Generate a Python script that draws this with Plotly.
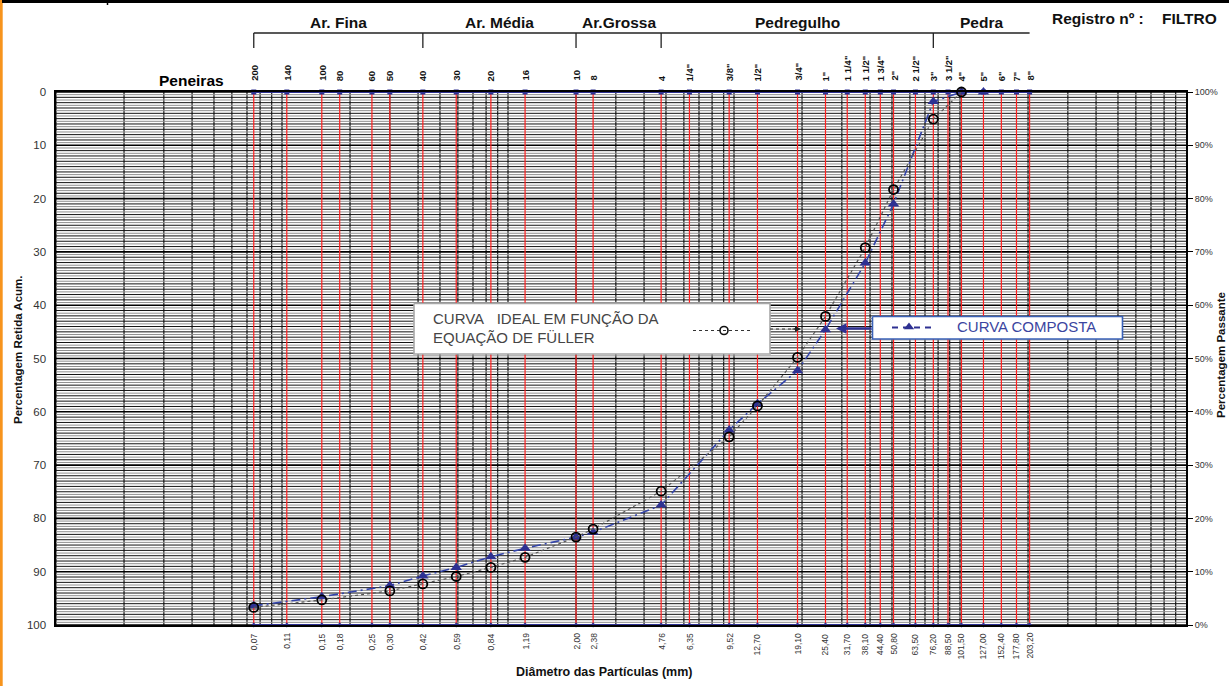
import math
import plotly.graph_objects as go

# ---------------- data ----------------
sieve_labels = ["200", "140", "100", "80", "60", "50", "40", "30", "20", "16", "10", "8", "4",
                '1/4"', '3/8"', '1/2"', '3/4"', '1"', '1 1/4"', '1 1/2"', '1 3/4"', '2"',
                '2 1/2"', '3"', '3 1/2"', '4"', '5"', '6"', '7"', '8"']
sieve_mm = [0.075, 0.105, 0.15, 0.18, 0.25, 0.30, 0.42, 0.59, 0.84, 1.19, 2.00, 2.38, 4.76,
            6.35, 9.52, 12.70, 19.10, 25.40, 31.70, 38.10, 44.40, 50.80, 63.50, 76.20, 88.50,
            101.50, 127.00, 152.40, 177.80, 203.20]
mm_labels = ["0,07", "0,11", "0,15", "0,18", "0,25", "0,30", "0,42", "0,59", "0,84", "1,19",
             "2,00", "2,38", "4,76", "6,35", "9,52", "12,70", "19,10", "25,40", "31,70", "38,10",
             "44,40", "50,80", "63,50", "76,20", "88,50", "101,50", "127,00", "152,40", "177,80",
             "203,20"]

fuller_mm = [0.075, 0.15, 0.30, 0.42, 0.59, 0.84, 1.19, 2.00, 2.38, 4.76, 9.52, 12.70, 19.10,
             25.40, 38.10, 50.80, 76.20, 101.50]
fuller_ret = [96.7, 95.3, 93.6, 92.3, 90.9, 89.2, 87.3, 83.5, 82.0, 74.9, 64.7, 58.9, 49.8,
              42.1, 29.2, 18.3, 5.1, 0.0]

comp_mm = [0.075, 0.15, 0.30, 0.42, 0.59, 0.84, 1.19, 2.00, 2.38, 4.76, 9.52, 12.70, 19.10,
           25.40, 38.10, 50.80, 76.20, 101.50, 127.00]
comp_ret = [96.4, 94.7, 92.6, 90.8, 89.2, 87.2, 85.6, 83.5, 82.6, 77.5, 63.4, 58.5, 52.3,
            44.6, 32.1, 21.0, 1.8, 0.0, 0.0]

group_names = ["Ar. Fina", "Ar. Média", "Ar.Grossa", "Pedregulho", "Pedra"]
group_bounds = [0.075, 0.42, 2.00, 4.76, 76.20, 203.20]

left_ticks = list(range(0, 101, 10))
right_ticks = list(range(0, 101, 10))

# ---------------- geometry helpers ----------------
W_FIG, H_FIG = 1229, 686
L, R, T, B = 56, 1186, 92, 625
XMIN, XMAX = -2, 3


def px(x):
    return (x - L) / (R - L)


def py(y):
    return (B - y) / (B - T)


def xfrac(mm):
    return (math.log10(mm) - XMIN) / (XMAX - XMIN)


FONT = "Liberation Sans, Arial, sans-serif"
BLUE = "#2e3192"

fig = go.Figure()

# ---------------- grid ----------------
vx, vy = [], []
for e in range(XMIN, XMAX):
    for k in range(1, 10):
        v = k * 10 ** e
        vx += [v, v, None]
        vy += [0, 100, None]
fig.add_trace(go.Scatter(x=vx, y=vy, mode="lines", line=dict(color="#2a2a2a", width=1.3),
                         hoverinfo="skip", showlegend=False))

hx_gray, hy_gray, hx_blk, hy_blk, hx_maj, hy_maj = [], [], [], [], [], []
for i in range(0, 201):
    v = i / 2
    if i % 20 == 0:
        hx_maj += [0.01, 1000, None]
        hy_maj += [v, v, None]
    elif i % 2 == 0:
        hx_blk += [0.01, 1000, None]
        hy_blk += [v, v, None]
    else:
        hx_gray += [0.01, 1000, None]
        hy_gray += [v, v, None]
fig.add_trace(go.Scatter(x=hx_gray, y=hy_gray, mode="lines", line=dict(color="#8f8f8f", width=1),
                         hoverinfo="skip", showlegend=False))
fig.add_trace(go.Scatter(x=hx_blk, y=hy_blk, mode="lines", line=dict(color="#111111", width=1),
                         hoverinfo="skip", showlegend=False))
fig.add_trace(go.Scatter(x=hx_maj, y=hy_maj, mode="lines", line=dict(color="#000000", width=1.6),
                         hoverinfo="skip", showlegend=False))

# red sieve lines
rx, ry = [], []
for v in sieve_mm:
    rx += [v, v, None]
    ry += [0, 100, None]
fig.add_trace(go.Scatter(x=rx, y=ry, mode="lines", line=dict(color="#ff2020", width=1.2),
                         hoverinfo="skip", showlegend=False))

# ---------------- legend boxes (overlay axes in plot-fraction units) ----------------
def box(x0, y0, x1, y1, border, bw):
    fig.add_trace(go.Scatter(
        x=[px(x0), px(x1), px(x1), px(x0), px(x0)],
        y=[py(y0), py(y0), py(y1), py(y1), py(y0)],
        mode="lines", fill="toself", fillcolor="white",
        line=dict(color=border, width=bw), xaxis="x3", yaxis="y3",
        hoverinfo="skip", showlegend=False))


box(414, 303.5, 770, 354, "#a8a8a8", 1.6)
box(872.5, 316.5, 1122.5, 339, "#3a62b8", 1.6)

# legend samples
fig.add_trace(go.Scatter(x=[px(693), px(752)], y=[py(330.5), py(330.5)], mode="lines",
                         line=dict(color="#333333", width=1.2, dash="dot"),
                         xaxis="x3", yaxis="y3", hoverinfo="skip", showlegend=False))
fig.add_trace(go.Scatter(x=[px(724)], y=[py(330.5)], mode="markers",
                         marker=dict(symbol="circle-open", size=8, color="#111111",
                                     line=dict(width=1.6)),
                         xaxis="x3", yaxis="y3", hoverinfo="skip", showlegend=False))
fig.add_trace(go.Scatter(x=[px(770), px(795)], y=[py(329), py(329)], mode="lines",
                         line=dict(color="#333333", width=1.2, dash="dot"),
                         xaxis="x3", yaxis="y3", hoverinfo="skip", showlegend=False))
fig.add_trace(go.Scatter(x=[px(892), px(935)], y=[py(327.5), py(327.5)], mode="lines",
                         line=dict(color=BLUE, width=1.8, dash="6px,5px"),
                         xaxis="x3", yaxis="y3", hoverinfo="skip", showlegend=False))
fig.add_trace(go.Scatter(x=[px(909)], y=[py(327)], mode="markers",
                         marker=dict(symbol="triangle-up", size=9, color=BLUE),
                         xaxis="x3", yaxis="y3", hoverinfo="skip", showlegend=False))

# ---------------- top / bottom sieve bars ----------------
fig.add_trace(go.Scatter(x=sieve_mm, y=[0] * len(sieve_mm), mode="lines+markers",
                         line=dict(color=BLUE, width=2.2),
                         marker=dict(symbol="square", size=5, color=BLUE),
                         cliponaxis=False, hoverinfo="skip", showlegend=False))
fig.add_trace(go.Scatter(x=sieve_mm, y=[100] * len(sieve_mm), mode="lines+markers",
                         line=dict(color=BLUE, width=2.2),
                         marker=dict(symbol="diamond", size=4, color=BLUE),
                         cliponaxis=False, hoverinfo="skip", showlegend=False))

# ---------------- data curves ----------------
fig.add_trace(go.Scatter(x=comp_mm, y=comp_ret, mode="lines+markers", name="CURVA COMPOSTA",
                         line=dict(color="#3344aa", width=1.6, dash="9px,4px,2px,4px"),
                         marker=dict(symbol="triangle-up", size=10, color=BLUE),
                         cliponaxis=False, showlegend=False))
fig.add_trace(go.Scatter(x=fuller_mm, y=fuller_ret, mode="lines+markers",
                         name="CURVA IDEAL EM FUNÇÃO DA EQUAÇÃO DE FÜLLER",
                         line=dict(color="#555555", width=1.2, dash="dot"),
                         marker=dict(symbol="circle-open", size=9, color="#000000",
                                     line=dict(width=1.8)),
                         cliponaxis=False, showlegend=False))

# invisible trace for right axis
fig.add_trace(go.Scatter(x=[1], y=[50], yaxis="y2", mode="markers",
                         marker=dict(opacity=0), hoverinfo="skip", showlegend=False))

# ---------------- annotations ----------------
ann = []
for lab, v in zip(sieve_labels, sieve_mm):
    ann.append(dict(x=math.log10(v), y=1, xref="x", yref="paper", text="<b>" + lab + "</b>",
                    showarrow=False, textangle=-90, xanchor="center", yanchor="bottom",
                    yshift=9, font=dict(family=FONT, size=9.5, color="#111111")))
for lab, v in zip(mm_labels, sieve_mm):
    ann.append(dict(x=math.log10(v), y=0, xref="x", yref="paper", text=lab, showarrow=False,
                    textangle=-90, xanchor="center", yanchor="top", yshift=-6,
                    font=dict(family=FONT, size=8.5, color="#333333")))

for i, name in enumerate(group_names):
    mid = math.sqrt(group_bounds[i] * group_bounds[i + 1])
    ann.append(dict(x=xfrac(mid), y=py(23), xref="paper", yref="paper",
                    text="<b>" + name + "</b>", showarrow=False, xanchor="center",
                    yanchor="middle", font=dict(family=FONT, size=15.5, color="#111111")))

ann += [
    dict(x=px(226), y=py(80), xref="paper", yref="paper", text="<b>Peneiras</b>",
         showarrow=False, xanchor="right", yanchor="middle",
         font=dict(family=FONT, size=15.5, color="#000000")),
    dict(x=px(1050), y=py(18), xref="paper", yref="paper", text="<b>Registro nº :</b>",
         showarrow=False, xanchor="left", yanchor="middle",
         font=dict(family=FONT, size=15.5, color="#111111")),
    dict(x=px(1219), y=py(18), xref="paper", yref="paper", text="<b>FILTRO</b>",
         showarrow=False, xanchor="right", yanchor="middle",
         font=dict(family=FONT, size=15.5, color="#111111")),
    dict(x=px(18), y=py(350), xref="paper", yref="paper",
         text="<b>Percentagem Retida Acum.</b>", showarrow=False, textangle=-90,
         xanchor="center", yanchor="middle", font=dict(family=FONT, size=11.5, color="#111111")),
    dict(x=px(1221), y=py(355), xref="paper", yref="paper",
         text="<b>Percentagem Passante</b>", showarrow=False, textangle=-90,
         xanchor="center", yanchor="middle", font=dict(family=FONT, size=11.5, color="#111111")),
    dict(x=px(604), y=py(672), xref="paper", yref="paper",
         text="<b>Diâmetro das Partículas (mm)</b>", showarrow=False,
         xanchor="center", yanchor="middle", font=dict(family=FONT, size=12.5, color="#111111")),
    dict(x=px(431), y=py(318), xref="paper", yref="paper",
         text="CURVA\u00a0\u00a0\u00a0IDEAL EM FUNÇÃO DA", showarrow=False,
         xanchor="left", yanchor="middle", font=dict(family=FONT, size=15, color="#454545")),
    dict(x=px(431), y=py(337), xref="paper", yref="paper",
         text="EQUAÇÃO DE FÜLLER", showarrow=False,
         xanchor="left", yanchor="middle", font=dict(family=FONT, size=15, color="#454545")),
    dict(x=px(955), y=py(326.5), xref="paper", yref="paper",
         text="CURVA COMPOSTA", showarrow=False,
         xanchor="left", yanchor="middle", font=dict(family=FONT, size=15, color="#3b45a0")),
    dict(x=px(801), y=py(329), xref="paper", yref="paper", text="", showarrow=True,
         ax=-10, ay=0, arrowhead=2, arrowsize=1, arrowwidth=1.2, arrowcolor="#222222"),
    dict(x=px(836), y=py(328.5), xref="paper", yref="paper", text="", showarrow=True,
         ax=37, ay=0, arrowhead=2, arrowsize=0.8, arrowwidth=2.6, arrowcolor=BLUE),
]

# ---------------- shapes (brackets, frame) ----------------
shapes = []
bx0, bx1 = xfrac(group_bounds[0]), xfrac(group_bounds[-1])
shapes.append(dict(type="line", xref="paper", yref="paper", x0=bx0, x1=bx1,
                   y0=py(33), y1=py(33), line=dict(color="#222222", width=1.3)))
for v in group_bounds[:-1]:
    shapes.append(dict(type="line", xref="paper", yref="paper", x0=xfrac(v), x1=xfrac(v),
                       y0=py(33), y1=py(48), line=dict(color="#222222", width=1.3)))
shapes.append(dict(type="line", xref="paper", yref="paper", x0=px(1.3), x1=px(1.3),
                   y0=py(0), y1=py(686), line=dict(color="#f7941d", width=2.8)))
shapes.append(dict(type="line", xref="paper", yref="paper", x0=px(2), x1=px(1229),
                   y0=py(1.5), y1=py(1.5), line=dict(color="#000000", width=3)))
shapes.append(dict(type="line", xref="paper", yref="paper", x0=px(107.5), x1=px(107.5),
                   y0=py(0), y1=py(5), line=dict(color="#000000", width=1.5)))

fig.update_layout(
    width=W_FIG, height=H_FIG,
    margin=dict(l=L, r=W_FIG - R, t=T, b=H_FIG - B),
    paper_bgcolor="white", plot_bgcolor="white",
    showlegend=False,
    hovermode=False,
    font=dict(family=FONT),
    xaxis=dict(type="log", range=[XMIN, XMAX], showgrid=False, zeroline=False,
               showticklabels=False, ticks="", showline=True, mirror=True,
               linecolor="#000000", linewidth=1.6),
    yaxis=dict(range=[100, 0], tickvals=left_ticks, ticktext=[str(v) for v in left_ticks],
               showgrid=False, zeroline=False, ticks="", showline=True, mirror=True,
               linecolor="#000000", linewidth=1.6,
               tickfont=dict(family=FONT, size=11.5, color="#333333"),
               ticklabelstandoff=6),
    yaxis2=dict(overlaying="y", side="right", range=[0, 100], tickvals=right_ticks,
                ticktext=[f"{v}%" for v in right_ticks], showgrid=False, zeroline=False,
                ticks="outside", ticklen=6, tickcolor="#000000", tickwidth=1,
                showline=False, tickfont=dict(family=FONT, size=9, color="#333333")),
    xaxis3=dict(overlaying="x", range=[0, 1], visible=False),
    yaxis3=dict(overlaying="y", range=[0, 1], visible=False),
    annotations=ann,
    shapes=shapes,
)

fig.write_html("out.html", config={"displayModeBar": False, "staticPlot": True},
               post_script="document.body.style.margin='0px';"
                           "document.body.style.overflow='hidden';")
